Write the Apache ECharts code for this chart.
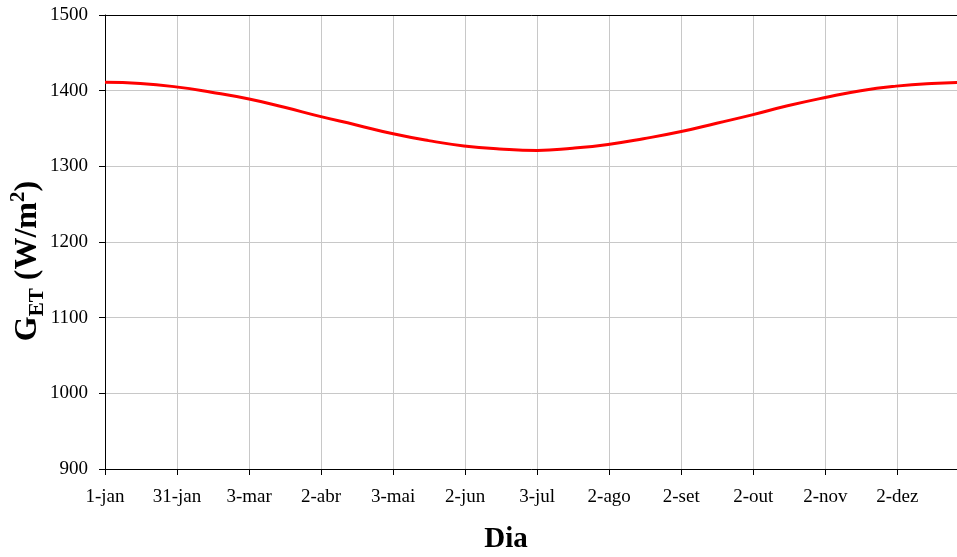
<!DOCTYPE html>
<html>
<head>
<meta charset="utf-8">
<script src="https://cdn.jsdelivr.net/npm/echarts@6/dist/echarts.min.js"></script>
<style>html,body{margin:0;padding:0;background:#fff;overflow:hidden}#c{width:957px;height:557px}</style>
</head>
<body>
<div id="c"></div>
<script>
// Day offsets from 1-jan
var days = [0, 15, 30, 45, 61, 76, 91, 106, 122, 137, 152, 167, 183, 198, 213, 228, 244, 259, 274, 289, 305, 320, 335, 350, 365];
// G_ET values (W/m2)
var getValues = [1411, 1409.5, 1405, 1398, 1389, 1378, 1366, 1355, 1343, 1334, 1327, 1323, 1321, 1324, 1329, 1336.5, 1346, 1357, 1368, 1380, 1391, 1400, 1406, 1409.5, 1411];
// X tick labels (every 30.5 days)
var xTickLabels = ['1-jan', '31-jan', '3-mar', '2-abr', '3-mai', '2-jun', '3-jul', '2-ago', '2-set', '2-out', '2-nov', '2-dez'];
var tickStep = 30.5;

var data = days.map(function (d, i) { return [d, getValues[i]]; });
var FF = 'Liberation Serif';

var chart = echarts.init(document.getElementById('c'), null, { renderer: 'canvas', width: 957, height: 557 });
chart.setOption({
  animation: false,
  backgroundColor: '#fff',
  grid: { left: 105, width: 862, top: 15, height: 454, show: false, containLabel: false, outerBoundsMode: 'none' },
  xAxis: [{
    type: 'value', min: 0, max: 365, interval: tickStep,
    axisLine: { show: true, onZero: false, lineStyle: { color: '#000', width: 1 } },
    axisTick: { show: true, inside: false, length: 6, lineStyle: { color: '#000' } },
    splitLine: { show: true, lineStyle: { color: '#c8c8c8', width: 1 } },
    axisLabel: {
      margin: 19, color: '#000', fontFamily: FF, fontSize: 19, hideOverlap: false,
      showMaxLabel: true, showMinLabel: true,
      formatter: function (v) {
        var i = Math.round(v / tickStep);
        if (Math.abs(i * tickStep - v) < 0.01 && i < xTickLabels.length) return xTickLabels[i];
        return '';
      }
    }
  }, {
    type: 'value', position: 'top', min: 0, max: 365,
    axisLine: { show: true, onZero: false, lineStyle: { color: '#000', width: 1 } },
    axisTick: { show: false }, axisLabel: { show: false }, splitLine: { show: false }
  }],
  yAxis: {
    type: 'value', min: 900, max: 1500, interval: 100,
    axisLine: { show: true, lineStyle: { color: '#000', width: 1 } },
    axisTick: { show: true, inside: false, length: 6, lineStyle: { color: '#000' } },
    splitLine: { show: true, lineStyle: { color: '#c8c8c8', width: 1 } },
    axisLabel: { margin: 17, color: '#000', fontFamily: FF, fontSize: 19, formatter: function (v) { return String(v); } }
  },
  series: [{
    type: 'line', data: data, smooth: 0.5, symbol: 'none', xAxisIndex: 0,
    lineStyle: { color: '#ff0000', width: 3 }, clip: true
  }],
  graphic: [
    {
      type: 'text', x: 28, y: 261, rotation: Math.PI / 2,
      style: {
        text: '{m|G}{s|ET}{m| (W/m}{p|2}{m|)}',
        align: 'center', verticalAlign: 'middle',
        rich: {
          m: { fontFamily: FF, fontWeight: 'bold', fontSize: 32, lineHeight: 40, fill: '#000', verticalAlign: 'middle' },
          s: { fontFamily: FF, fontWeight: 'bold', fontSize: 21, lineHeight: 20, fill: '#000', verticalAlign: 'bottom' },
          p: { fontFamily: FF, fontWeight: 'bold', fontSize: 21, lineHeight: 20, fill: '#000', verticalAlign: 'top' }
        }
      }
    },
    {
      type: 'text', x: 506, y: 540,
      style: { text: 'Dia', fontFamily: FF, fontWeight: 'bold', fontSize: 29, fill: '#000', align: 'center', verticalAlign: 'middle' }
    }
  ]
});
</script>
</body>
</html>
